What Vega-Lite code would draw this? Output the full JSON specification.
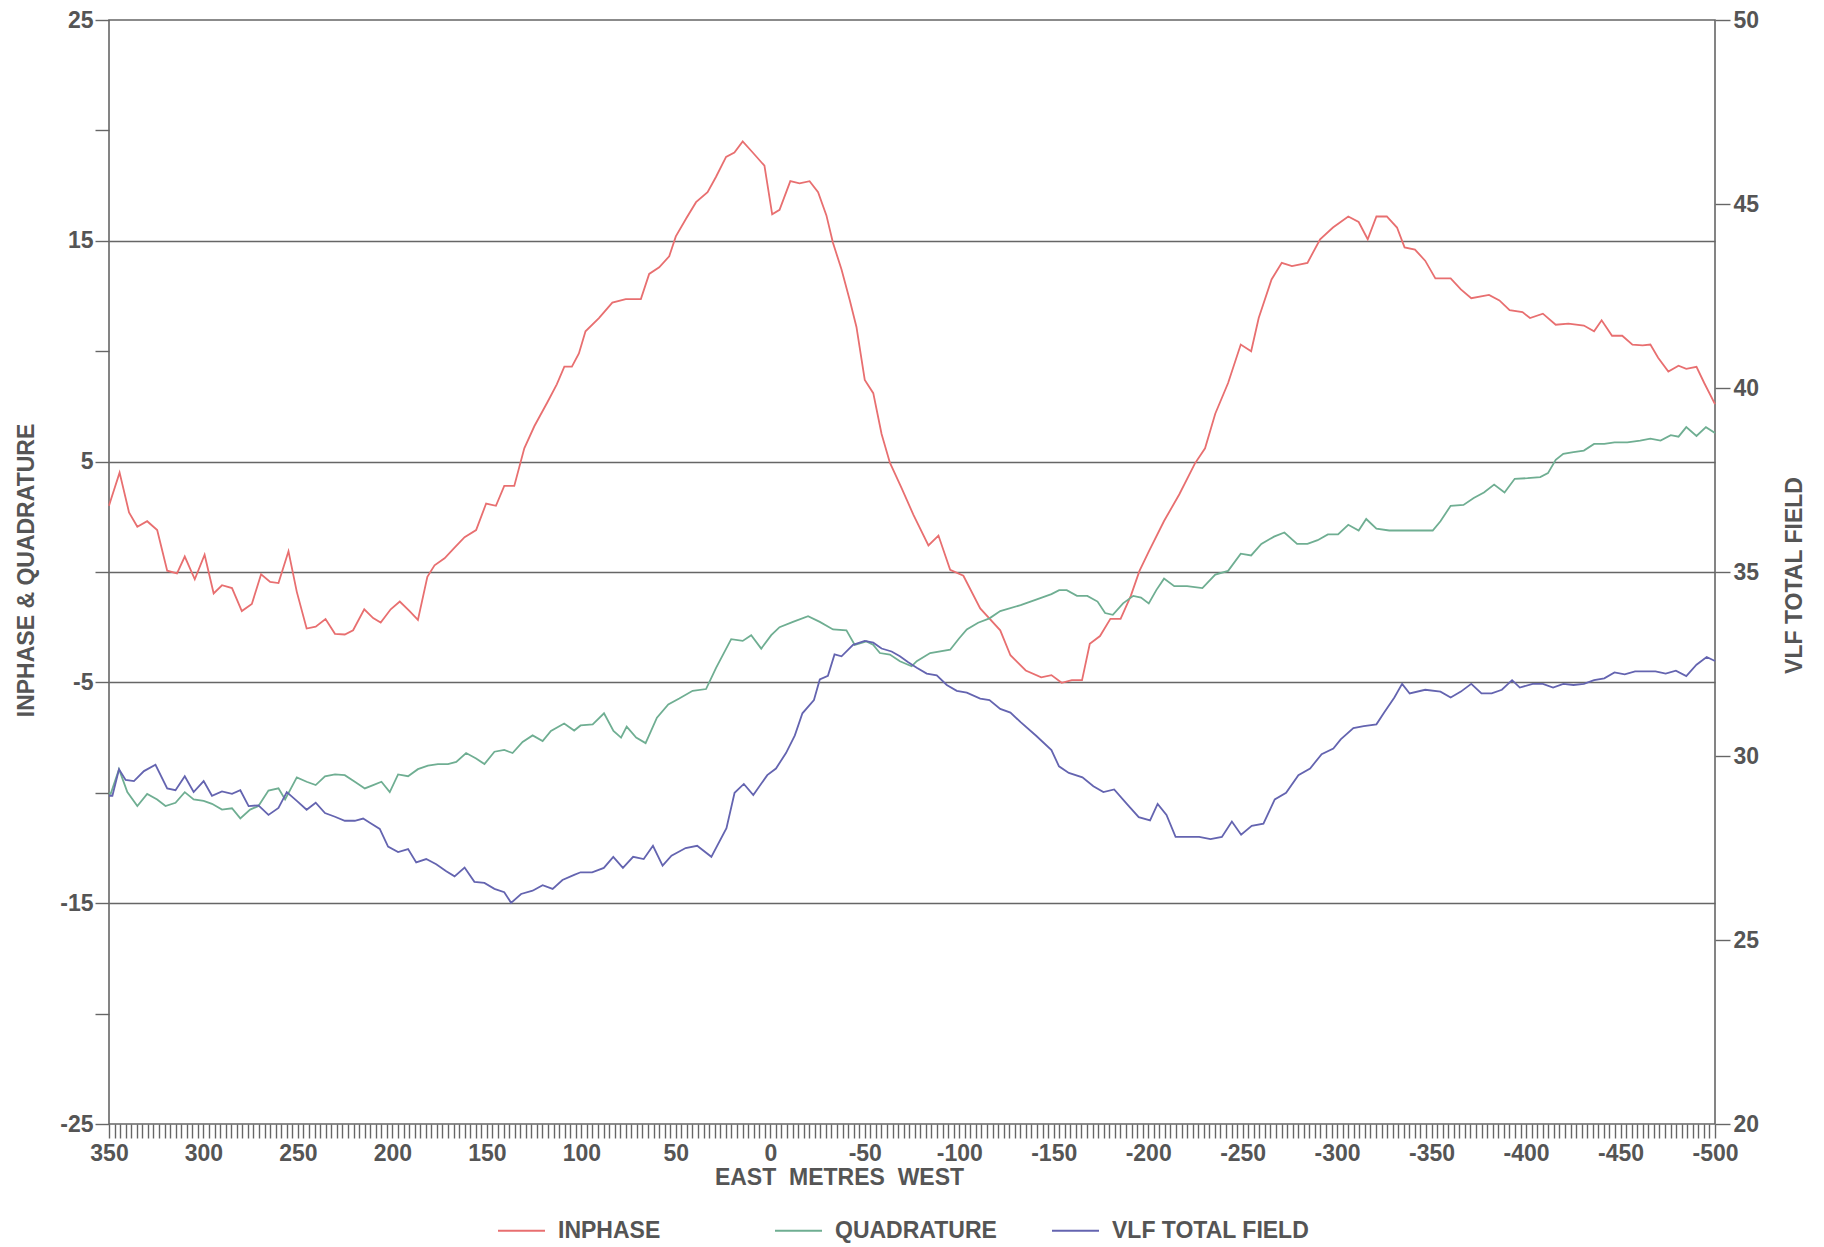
{
"$schema": "https://vega.github.io/schema/vega-lite/v6.json",
"autosize": {"type": "none"},
"width": 1606,
"height": 1104,
"padding": {"left": 109, "top": 20, "right": 109, "bottom": 123},
"background": "white",
"config": {"view": {"stroke": "#666", "strokeWidth": 1.6}},
"datasets": {
"inphase": [{"x":350,"v":3.0},{"x":349.1,"v":3.25},{"x":344.4,"v":4.5},{"x":339.4,"v":2.7},{"x":335,"v":2.05},{"x":329.8,"v":2.3},{"x":324.5,"v":1.9},{"x":319.2,"v":0.06},{"x":314,"v":-0.06},{"x":309.9,"v":0.7},{"x":304.6,"v":-0.33},{"x":299.4,"v":0.78},{"x":294.6,"v":-0.97},{"x":290.2,"v":-0.6},{"x":284.9,"v":-0.73},{"x":279.7,"v":-1.77},{"x":274.4,"v":-1.45},{"x":269.5,"v":-0.1},{"x":264.7,"v":-0.45},{"x":260.3,"v":-0.5},{"x":255,"v":0.94},{"x":250.6,"v":-0.9},{"x":245.4,"v":-2.56},{"x":240.6,"v":-2.48},{"x":235.4,"v":-2.13},{"x":230.4,"v":-2.8},{"x":225.2,"v":-2.83},{"x":220.8,"v":-2.64},{"x":214.9,"v":-1.69},{"x":210.2,"v":-2.09},{"x":206.2,"v":-2.29},{"x":200.9,"v":-1.69},{"x":196.1,"v":-1.34},{"x":190.9,"v":-1.77},{"x":186.5,"v":-2.17},{"x":181.5,"v":-0.22},{"x":177.7,"v":0.3},{"x":172.4,"v":0.62},{"x":167.1,"v":1.1},{"x":161.8,"v":1.58},{"x":155.7,"v":1.9},{"x":150.4,"v":3.1},{"x":145.2,"v":3.0},{"x":140.8,"v":3.9},{"x":135.5,"v":3.9},{"x":130.2,"v":5.6},{"x":124.9,"v":6.6},{"x":117.9,"v":7.7},{"x":113,"v":8.5},{"x":109,"v":9.3},{"x":105,"v":9.3},{"x":101.3,"v":9.9},{"x":97.8,"v":10.9},{"x":90.7,"v":11.5},{"x":83.6,"v":12.2},{"x":76.5,"v":12.36},{"x":68.5,"v":12.36},{"x":64.1,"v":13.5},{"x":58.8,"v":13.8},{"x":53.5,"v":14.3},{"x":50,"v":15.2},{"x":44.6,"v":16.0},{"x":39.3,"v":16.75},{"x":33.2,"v":17.2},{"x":28.7,"v":17.9},{"x":23.4,"v":18.8},{"x":19,"v":19.0},{"x":14.6,"v":19.5},{"x":9.3,"v":19.0},{"x":3.1,"v":18.4},{"x":-1,"v":16.2},{"x":-4.9,"v":16.4},{"x":-10.6,"v":17.7},{"x":-15.5,"v":17.6},{"x":-20.8,"v":17.7},{"x":-25.3,"v":17.2},{"x":-29.7,"v":16.15},{"x":-33.2,"v":14.9},{"x":-37.7,"v":13.7},{"x":-42.1,"v":12.3},{"x":-45.6,"v":11.1},{"x":-50,"v":8.7},{"x":-54.5,"v":8.1},{"x":-58.9,"v":6.25},{"x":-63.3,"v":4.95},{"x":-69.5,"v":3.8},{"x":-75.7,"v":2.6},{"x":-83.7,"v":1.2},{"x":-89,"v":1.65},{"x":-95.2,"v":0.1},{"x":-102.2,"v":-0.17},{"x":-111.1,"v":-1.65},{"x":-121.7,"v":-2.64},{"x":-127.1,"v":-3.77},{"x":-135.2,"v":-4.46},{"x":-143.4,"v":-4.77},{"x":-148.8,"v":-4.67},{"x":-154.2,"v":-5.02},{"x":-159.6,"v":-4.9},{"x":-165,"v":-4.9},{"x":-169.1,"v":-3.25},{"x":-174.5,"v":-2.9},{"x":-180,"v":-2.12},{"x":-185.4,"v":-2.12},{"x":-190.8,"v":-1.08},{"x":-195.4,"v":0.05},{"x":-200.3,"v":0.92},{"x":-208.4,"v":2.31},{"x":-216.5,"v":3.52},{"x":-224.7,"v":4.91},{"x":-230.1,"v":5.6},{"x":-235.5,"v":7.17},{"x":-242.3,"v":8.56},{"x":-249,"v":10.3},{"x":-254.5,"v":10.0},{"x":-258.5,"v":11.5},{"x":-265.3,"v":13.25},{"x":-270.7,"v":14.0},{"x":-276.1,"v":13.85},{"x":-284.3,"v":14.0},{"x":-291,"v":15.07},{"x":-297.8,"v":15.6},{"x":-305.9,"v":16.1},{"x":-311.4,"v":15.85},{"x":-316.2,"v":15.07},{"x":-320.8,"v":16.1},{"x":-326.3,"v":16.1},{"x":-331.7,"v":15.6},{"x":-335.7,"v":14.7},{"x":-341.2,"v":14.6},{"x":-346.6,"v":14.1},{"x":-352,"v":13.3},{"x":-360.1,"v":13.3},{"x":-365.5,"v":12.8},{"x":-371,"v":12.4},{"x":-380.4,"v":12.55},{"x":-385.9,"v":12.3},{"x":-391.3,"v":11.86},{"x":-398.1,"v":11.77},{"x":-402.1,"v":11.5},{"x":-408.9,"v":11.7},{"x":-415.7,"v":11.2},{"x":-422.4,"v":11.25},{"x":-430.6,"v":11.16},{"x":-436,"v":10.9},{"x":-440,"v":11.4},{"x":-445.5,"v":10.7},{"x":-450.9,"v":10.7},{"x":-456.3,"v":10.3},{"x":-461.7,"v":10.26},{"x":-465.8,"v":10.3},{"x":-469.9,"v":9.7},{"x":-475.3,"v":9.08},{"x":-480.7,"v":9.34},{"x":-484.8,"v":9.2},{"x":-490.2,"v":9.29},{"x":-494.3,"v":8.56},{"x":-500,"v":7.6}],
"quadrature": [{"x":350,"v":-10.0},{"x":349.1,"v":-10.05},{"x":344.7,"v":-8.93},{"x":340.3,"v":-9.97},{"x":335,"v":-10.6},{"x":329.8,"v":-10.05},{"x":324.5,"v":-10.3},{"x":320.1,"v":-10.6},{"x":314.8,"v":-10.45},{"x":309.9,"v":-9.97},{"x":305.2,"v":-10.3},{"x":299.9,"v":-10.37},{"x":295.5,"v":-10.5},{"x":290.2,"v":-10.76},{"x":284.9,"v":-10.7},{"x":280.5,"v":-11.16},{"x":275.3,"v":-10.76},{"x":270.9,"v":-10.6},{"x":265.6,"v":-9.9},{"x":260.3,"v":-9.8},{"x":256.8,"v":-10.3},{"x":250.6,"v":-9.3},{"x":245.4,"v":-9.5},{"x":240.6,"v":-9.65},{"x":235.7,"v":-9.25},{"x":230.4,"v":-9.17},{"x":225.2,"v":-9.2},{"x":219.9,"v":-9.5},{"x":214.6,"v":-9.8},{"x":210.2,"v":-9.65},{"x":205.8,"v":-9.5},{"x":201.4,"v":-9.97},{"x":197,"v":-9.17},{"x":191.7,"v":-9.25},{"x":186.5,"v":-8.93},{"x":181.2,"v":-8.77},{"x":175.9,"v":-8.7},{"x":170.6,"v":-8.7},{"x":166.2,"v":-8.6},{"x":161,"v":-8.2},{"x":155.7,"v":-8.45},{"x":151.3,"v":-8.7},{"x":146,"v":-8.14},{"x":140.8,"v":-8.06},{"x":136.4,"v":-8.2},{"x":131.1,"v":-7.7},{"x":125.8,"v":-7.4},{"x":120.5,"v":-7.66},{"x":116.1,"v":-7.2},{"x":109.1,"v":-6.86},{"x":103.8,"v":-7.18},{"x":100.4,"v":-6.95},{"x":94,"v":-6.9},{"x":88,"v":-6.4},{"x":83,"v":-7.2},{"x":79,"v":-7.5},{"x":76,"v":-7.0},{"x":71,"v":-7.5},{"x":66,"v":-7.75},{"x":60,"v":-6.6},{"x":54,"v":-6.0},{"x":48.2,"v":-5.73},{"x":41.1,"v":-5.38},{"x":34,"v":-5.3},{"x":28.7,"v":-4.34},{"x":20.7,"v":-3.04},{"x":14.6,"v":-3.12},{"x":10.1,"v":-2.86},{"x":4.8,"v":-3.47},{"x":-0.5,"v":-2.86},{"x":-4.9,"v":-2.5},{"x":-12,"v":-2.26},{"x":-20,"v":-2.0},{"x":-26.2,"v":-2.26},{"x":-33.2,"v":-2.6},{"x":-40.3,"v":-2.64},{"x":-44.7,"v":-3.3},{"x":-50.9,"v":-3.14},{"x":-54.4,"v":-3.29},{"x":-58,"v":-3.67},{"x":-63.3,"v":-3.74},{"x":-68.6,"v":-4.04},{"x":-74.8,"v":-4.27},{"x":-77.5,"v":-4.04},{"x":-84.6,"v":-3.67},{"x":-95.2,"v":-3.52},{"x":-100,"v":-3.0},{"x":-104,"v":-2.6},{"x":-110,"v":-2.3},{"x":-116,"v":-2.1},{"x":-121.7,"v":-1.77},{"x":-132.5,"v":-1.5},{"x":-140.7,"v":-1.25},{"x":-148.8,"v":-1.0},{"x":-152.9,"v":-0.82},{"x":-156.9,"v":-0.82},{"x":-162.3,"v":-1.08},{"x":-167.8,"v":-1.08},{"x":-173.2,"v":-1.34},{"x":-177.2,"v":-1.86},{"x":-181.3,"v":-1.94},{"x":-186.7,"v":-1.42},{"x":-192.1,"v":-1.08},{"x":-196.2,"v":-1.16},{"x":-200.3,"v":-1.42},{"x":-204.3,"v":-0.82},{"x":-208.4,"v":-0.3},{"x":-213.8,"v":-0.64},{"x":-220.6,"v":-0.64},{"x":-228.7,"v":-0.73},{"x":-235.5,"v":-0.12},{"x":-242.3,"v":0.05},{"x":-249,"v":0.83},{"x":-254.5,"v":0.75},{"x":-259.9,"v":1.27},{"x":-266.6,"v":1.6},{"x":-272.1,"v":1.79},{"x":-278.8,"v":1.27},{"x":-284.3,"v":1.27},{"x":-289.7,"v":1.44},{"x":-295.1,"v":1.7},{"x":-300.5,"v":1.7},{"x":-305.9,"v":2.14},{"x":-311.4,"v":1.88},{"x":-315.4,"v":2.4},{"x":-320.8,"v":1.96},{"x":-327.6,"v":1.88},{"x":-338.4,"v":1.88},{"x":-350.6,"v":1.88},{"x":-354.7,"v":2.3},{"x":-360.1,"v":3.0},{"x":-366.9,"v":3.04},{"x":-372.3,"v":3.35},{"x":-377.7,"v":3.6},{"x":-383.1,"v":3.96},{"x":-388.6,"v":3.6},{"x":-394,"v":4.22},{"x":-400.8,"v":4.25},{"x":-407.5,"v":4.3},{"x":-411.6,"v":4.48},{"x":-415.7,"v":5.08},{"x":-419.7,"v":5.35},{"x":-425.1,"v":5.43},{"x":-430.6,"v":5.5},{"x":-436,"v":5.8},{"x":-441.4,"v":5.8},{"x":-446.8,"v":5.87},{"x":-453.6,"v":5.87},{"x":-460.4,"v":5.95},{"x":-465.8,"v":6.04},{"x":-471.2,"v":5.95},{"x":-476.6,"v":6.2},{"x":-480.7,"v":6.13},{"x":-484.8,"v":6.56},{"x":-490.2,"v":6.16},{"x":-495.2,"v":6.56},{"x":-500,"v":6.3}],
"vlf": [{"x":350,"v":28.92},{"x":348.2,"v":28.92},{"x":344.7,"v":29.64},{"x":341.2,"v":29.35},{"x":336.8,"v":29.32},{"x":331.5,"v":29.59},{"x":325.4,"v":29.76},{"x":319.2,"v":29.12},{"x":314.8,"v":29.07},{"x":309.9,"v":29.45},{"x":305.2,"v":29.02},{"x":299.9,"v":29.32},{"x":295.5,"v":28.92},{"x":290.2,"v":29.04},{"x":284.9,"v":28.97},{"x":280.5,"v":29.07},{"x":276.1,"v":28.64},{"x":270.9,"v":28.66},{"x":265.6,"v":28.4},{"x":260.3,"v":28.59},{"x":255.9,"v":29.02},{"x":250.6,"v":28.78},{"x":245.4,"v":28.54},{"x":240.6,"v":28.73},{"x":235.7,"v":28.45},{"x":230.4,"v":28.35},{"x":225.2,"v":28.24},{"x":219.9,"v":28.24},{"x":215.5,"v":28.3},{"x":211.1,"v":28.16},{"x":206.7,"v":28.02},{"x":202.3,"v":27.54},{"x":197,"v":27.39},{"x":191.7,"v":27.47},{"x":187.4,"v":27.11},{"x":182.1,"v":27.2},{"x":176.8,"v":27.06},{"x":171.5,"v":26.87},{"x":167.1,"v":26.73},{"x":161.8,"v":26.97},{"x":156.6,"v":26.58},{"x":151.3,"v":26.55},{"x":146,"v":26.39},{"x":140.8,"v":26.3},{"x":137.2,"v":26.01},{"x":131.9,"v":26.25},{"x":125.8,"v":26.34},{"x":120.5,"v":26.49},{"x":115.2,"v":26.39},{"x":110,"v":26.63},{"x":103.8,"v":26.77},{"x":100.4,"v":26.84},{"x":94.3,"v":26.84},{"x":88.1,"v":26.96},{"x":83.1,"v":27.26},{"x":78,"v":26.96},{"x":72.6,"v":27.26},{"x":67,"v":27.2},{"x":62.1,"v":27.56},{"x":57,"v":27.02},{"x":52.3,"v":27.29},{"x":44.8,"v":27.5},{"x":38.7,"v":27.56},{"x":31.2,"v":27.26},{"x":23.2,"v":28.04},{"x":18.9,"v":29.0},{"x":14,"v":29.24},{"x":9,"v":28.94},{"x":1.6,"v":29.48},{"x":-3,"v":29.66},{"x":-8.3,"v":30.08},{"x":-13,"v":30.56},{"x":-17,"v":31.16},{"x":-23.1,"v":31.52},{"x":-26.2,"v":32.08},{"x":-30.5,"v":32.18},{"x":-34,"v":32.76},{"x":-37.7,"v":32.71},{"x":-43.8,"v":33.02},{"x":-50,"v":33.13},{"x":-54.5,"v":33.08},{"x":-58.9,"v":32.92},{"x":-64.2,"v":32.84},{"x":-68.6,"v":32.71},{"x":-73,"v":32.55},{"x":-77.5,"v":32.4},{"x":-82.8,"v":32.24},{"x":-88.1,"v":32.19},{"x":-93.4,"v":31.93},{"x":-98.7,"v":31.77},{"x":-104,"v":31.72},{"x":-111.1,"v":31.56},{"x":-116,"v":31.52},{"x":-121.7,"v":31.28},{"x":-127.1,"v":31.18},{"x":-132.5,"v":30.92},{"x":-140.7,"v":30.55},{"x":-148.8,"v":30.16},{"x":-152.8,"v":29.72},{"x":-158,"v":29.54},{"x":-165.2,"v":29.42},{"x":-171,"v":29.18},{"x":-176.3,"v":29.02},{"x":-182,"v":29.09},{"x":-188.7,"v":28.7},{"x":-195,"v":28.34},{"x":-201,"v":28.25},{"x":-205,"v":28.7},{"x":-209.7,"v":28.4},{"x":-214.5,"v":27.8},{"x":-220.8,"v":27.8},{"x":-227,"v":27.8},{"x":-233,"v":27.74},{"x":-239,"v":27.8},{"x":-244.3,"v":28.22},{"x":-249.2,"v":27.86},{"x":-254.8,"v":28.1},{"x":-261,"v":28.16},{"x":-267,"v":28.82},{"x":-273,"v":29.0},{"x":-279.5,"v":29.48},{"x":-285.7,"v":29.66},{"x":-291.8,"v":30.05},{"x":-298,"v":30.2},{"x":-301.9,"v":30.45},{"x":-308.6,"v":30.76},{"x":-314.1,"v":30.81},{"x":-320.8,"v":30.86},{"x":-324.9,"v":31.18},{"x":-330.3,"v":31.59},{"x":-334.4,"v":31.96},{"x":-338.4,"v":31.7},{"x":-346.6,"v":31.8},{"x":-354.7,"v":31.75},{"x":-360.1,"v":31.59},{"x":-365.5,"v":31.75},{"x":-371,"v":31.96},{"x":-376.4,"v":31.7},{"x":-381.8,"v":31.7},{"x":-387.2,"v":31.8},{"x":-392.6,"v":32.06},{"x":-396.7,"v":31.86},{"x":-403.5,"v":31.96},{"x":-408.9,"v":31.96},{"x":-414.3,"v":31.86},{"x":-419.7,"v":31.96},{"x":-425.1,"v":31.93},{"x":-430.6,"v":31.96},{"x":-436,"v":32.06},{"x":-441.4,"v":32.11},{"x":-446.8,"v":32.27},{"x":-452.2,"v":32.22},{"x":-457.7,"v":32.3},{"x":-463.1,"v":32.3},{"x":-468.5,"v":32.3},{"x":-473.9,"v":32.24},{"x":-479.3,"v":32.32},{"x":-484.8,"v":32.17},{"x":-490.2,"v":32.48},{"x":-495.6,"v":32.69},{"x":-500,"v":32.58}]
},
"encoding": {
"x": {"field": "x", "type": "quantitative",
 "scale": {"domain": [350, -500], "nice": false, "zero": false},
 "axis": {
  "orient": "bottom",
  "values": [350,347.06,344.12,341.18,338.24,335.29,332.35,329.41,326.47,323.53,320.59,317.65,314.71,311.76,308.82,305.88,302.94,300,297.06,294.12,291.18,288.24,285.29,282.35,279.41,276.47,273.53,270.59,267.65,264.71,261.76,258.82,255.88,252.94,250,247.06,244.12,241.18,238.24,235.29,232.35,229.41,226.47,223.53,220.59,217.65,214.71,211.76,208.82,205.88,202.94,200,197.06,194.12,191.18,188.24,185.29,182.35,179.41,176.47,173.53,170.59,167.65,164.71,161.76,158.82,155.88,152.94,150,147.06,144.12,141.18,138.24,135.29,132.35,129.41,126.47,123.53,120.59,117.65,114.71,111.76,108.82,105.88,102.94,100,97.06,94.12,91.18,88.24,85.29,82.35,79.41,76.47,73.53,70.59,67.65,64.71,61.76,58.82,55.88,52.94,50,47.06,44.12,41.18,38.24,35.29,32.35,29.41,26.47,23.53,20.59,17.65,14.71,11.76,8.82,5.88,2.94,0,-2.94,-5.88,-8.82,-11.76,-14.71,-17.65,-20.59,-23.53,-26.47,-29.41,-32.35,-35.29,-38.24,-41.18,-44.12,-47.06,-50,-52.94,-55.88,-58.82,-61.76,-64.71,-67.65,-70.59,-73.53,-76.47,-79.41,-82.35,-85.29,-88.24,-91.18,-94.12,-97.06,-100,-102.94,-105.88,-108.82,-111.76,-114.71,-117.65,-120.59,-123.53,-126.47,-129.41,-132.35,-135.29,-138.24,-141.18,-144.12,-147.06,-150,-152.94,-155.88,-158.82,-161.76,-164.71,-167.65,-170.59,-173.53,-176.47,-179.41,-182.35,-185.29,-188.24,-191.18,-194.12,-197.06,-200,-202.94,-205.88,-208.82,-211.76,-214.71,-217.65,-220.59,-223.53,-226.47,-229.41,-232.35,-235.29,-238.24,-241.18,-244.12,-247.06,-250,-252.94,-255.88,-258.82,-261.76,-264.71,-267.65,-270.59,-273.53,-276.47,-279.41,-282.35,-285.29,-288.24,-291.18,-294.12,-297.06,-300,-302.94,-305.88,-308.82,-311.76,-314.71,-317.65,-320.59,-323.53,-326.47,-329.41,-332.35,-335.29,-338.24,-341.18,-344.12,-347.06,-350,-352.94,-355.88,-358.82,-361.76,-364.71,-367.65,-370.59,-373.53,-376.47,-379.41,-382.35,-385.29,-388.24,-391.18,-394.12,-397.06,-400,-402.94,-405.88,-408.82,-411.76,-414.71,-417.65,-420.59,-423.53,-426.47,-429.41,-432.35,-435.29,-438.24,-441.18,-444.12,-447.06,-450,-452.94,-455.88,-458.82,-461.76,-464.71,-467.65,-470.59,-473.53,-476.47,-479.41,-482.35,-485.29,-488.24,-491.18,-494.12,-497.06,-500],
  "labelExpr": "datum.value % 50 == 0 ? '' + datum.value : ''",
  "labelOverlap": false, "labelBound": false, "labelFlush": false,
  "domain": false, "grid": false,
  "tickSize": 14, "tickColor": "#666", "tickWidth": 1.4,
  "labelPadding": 4, "labelFont": "Liberation Sans", "labelFontWeight": "bold", "labelFontSize": 23, "labelColor": "#555",
  "title": "EAST\u00a0 METRES\u00a0 WEST",
  "titleFont": "Liberation Sans", "titleFontWeight": "bold", "titleFontSize": 23, "titleColor": "#555",
  "titleX": 730, "titleY": 53, "titleAlign": "center", "titleBaseline": "middle", "titleAnchor": null
 }
}
},
"layer": [
 {
  "encoding": {
   "y": {"field": "v", "type": "quantitative",
    "scale": {"domain": [-25, 25], "nice": false, "zero": false},
    "axis": {
     "orient": "left",
     "values": [-25,-20,-15,-10,-5,0,5,10,15,20,25],
     "labelExpr": "abs(datum.value) % 10 == 5 ? '' + datum.value : ''",
     "labelOverlap": false, "labelBound": false, "labelFlush": false,
     "domain": false,
     "grid": true, "gridColor": "#666", "gridWidth": 1.6,
     "gridOpacity": {"condition": {"test": "abs(datum.value) == 15 || abs(datum.value) == 5 || datum.value == 0", "value": 1}, "value": 0},
     "tickSize": 14, "tickColor": "#666", "tickWidth": 1.4,
     "labelPadding": 2, "labelFont": "Liberation Sans", "labelFontWeight": "bold", "labelFontSize": 23, "labelColor": "#555",
     "title": "INPHASE & QUADRATURE",
     "titleFont": "Liberation Sans", "titleFontWeight": "bold", "titleFontSize": 23, "titleColor": "#555",
     "titleAngle": 270, "titleX": -83, "titleY": 550, "titleAlign": "center", "titleBaseline": "middle"
    }
   },
   "color": {"datum": "INPHASE", "type": "nominal",
    "scale": {"domain": ["INPHASE", "QUADRATURE", "VLF TOTAL FIELD"], "range": ["#e86f70", "#6fae92", "#6464b0"]},
    "legend": {"orient": "none", "legendX": 388, "legendY": 1186, "direction": "horizontal", "columns": 3, "gridAlign": "all", "columnPadding": 15,
     "symbolType": "stroke", "symbolSize": 2209, "symbolStrokeWidth": 2, "labelOffset": 12, "padding": 0, "labelLimit": 500,
     "labelFont": "Liberation Sans", "labelFontWeight": "bold", "labelFontSize": 23, "labelColor": "#555", "title": null}
   }
  },
  "layer": [
   {"data": {"name": "inphase"}, "mark": {"type": "line", "strokeWidth": 1.8}, "encoding": {"color": {"datum": "INPHASE", "type": "nominal"}}},
   {"data": {"name": "quadrature"}, "mark": {"type": "line", "strokeWidth": 1.8}, "encoding": {"color": {"datum": "QUADRATURE", "type": "nominal"}}}
  ]
 },
 {
  "data": {"name": "vlf"},
  "mark": {"type": "line", "strokeWidth": 1.8},
  "encoding": {
   "y": {"field": "v", "type": "quantitative",
    "scale": {"domain": [20, 50], "nice": false, "zero": false},
    "axis": {
     "orient": "right",
     "values": [20,25,30,35,40,45,50],
     "labelExpr": "'' + datum.value",
     "labelOverlap": false, "labelBound": false, "labelFlush": false,
     "domain": false, "grid": false,
     "tickSize": 15, "tickColor": "#666", "tickWidth": 1.4,
     "labelPadding": 3, "labelFont": "Liberation Sans", "labelFontWeight": "bold", "labelFontSize": 23, "labelColor": "#555",
     "title": "VLF TOTAL FIELD",
     "titleFont": "Liberation Sans", "titleFontWeight": "bold", "titleFontSize": 23, "titleColor": "#555",
     "titleAngle": 270, "titleX": 79, "titleY": 555, "titleAlign": "center", "titleBaseline": "middle"
    }
   },
   "color": {"datum": "VLF TOTAL FIELD", "type": "nominal"}
  }
 }
],
"resolve": {"scale": {"y": "independent"}}
}
